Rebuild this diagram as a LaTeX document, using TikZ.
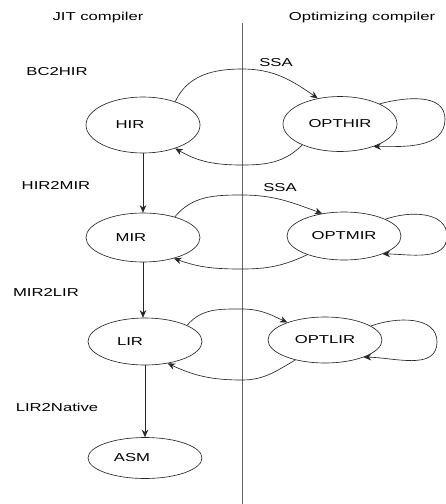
\documentclass[tikz,border=0pt]{standalone}
\usepackage{fontspec}
\usetikzlibrary{shapes.geometric,arrows.meta}
\newfontfamily\labfont[FakeStretch=1.45]{Liberation Sans}
\tikzset{
  lab/.style={font=\labfont\fontsize{11.5}{13}\selectfont, text=black, inner sep=0pt},
  st/.style={draw=black!85, line width=0.65pt, ellipse, inner sep=0pt, minimum width=114pt},
  conn/.style={draw=black!85, line width=0.65pt, -{Stealth[length=7.5pt,width=6.5pt]}},
  divider/.style={draw=black!60, line width=0.8pt}
}
\begin{document}
\begin{tikzpicture}[x=1pt,y=1pt]
\useasboundingbox (0,0) rectangle (446,-504);
% divider
\coordinate (vtop) at (242,-23);
\coordinate (vbot) at (242,-504);
\draw[divider] (vtop) -- (vbot);
% headings and labels
\node[lab] (jit) at (98,-18) {JIT compiler};
\node[lab] (opt) at (362,-18) {Optimizing compiler};
\node[lab] (bc2hir) at (57,-72) {BC2HIR};
\node[lab] (ssa1) at (276,-63) {SSA};
\node[lab] (hir2mir) at (56,-185) {HIR2MIR};
\node[lab] (ssa2) at (280,-188) {SSA};
\node[lab] (mir2lir) at (46,-292) {MIR2LIR};
\node[lab] (lir2nat) at (57,-407) {LIR2Native};
% states
\node[st, minimum height=56pt, label={[lab,xshift=-13pt]center:HIR}] (hir) at (143,-125) {};
\node[st, minimum height=55pt, label={[lab]center:OPTHIR}] (opthir) at (340,-124) {};
\node[st, minimum height=49pt, label={[lab,xshift=-12pt]center:MIR}] (mir) at (143,-237.5) {};
\node[st, minimum height=48pt, label={[lab]center:OPTMIR}] (optmir) at (344,-236) {};
\node[st, minimum height=47pt, label={[lab,xshift=-15pt]center:LIR}] (lir) at (145,-341.5) {};
\node[st, minimum height=46pt, label={[lab]center:OPTLIR}] (optlir) at (325,-340) {};
\node[st, minimum height=41pt, label={[lab,xshift=-13pt]center:ASM}] (asm) at (145,-458) {};
% helper coordinates
\coordinate (p1) at (242,-69);
\coordinate (b1) at (242,-165);
\coordinate (l1) at (445,-119);
\coordinate (p2) at (242,-195);
\coordinate (b2) at (242,-269);
\coordinate (l2) at (447,-236);
\coordinate (p3) at (242,-309);
\coordinate (b3) at (242,-380);
\coordinate (l3) at (437,-342);
% vertical arrows
\draw[conn] (hir.south) -- (mir.north);
\draw[conn] (mir.south) -- (mir.south |- lir.north);
\draw[conn] (lir.south) -- (asm.north);
% HIR level
\draw[conn] (hir.36) to[out=65,in=180] (p1) to[out=0,in=145] (opthir.131);
\draw[conn] (opthir.209) to[out=225,in=0] (b1) to[out=180,in=-30] (hir.-36);
\draw[conn] (opthir.27) to[out=15,in=90] (l1) to[out=-90,in=0] (opthir.-34);
% MIR level
\draw[conn] (mir.33) to[out=50,in=180] (p2) to[out=0,in=160] (optmir.134);
\draw[conn] (optmir.207) to[out=205,in=0] (b2) to[out=180,in=-20] (mir.-34);
\draw[conn] (optmir.22) to[out=20,in=90] (l2) to[out=-90,in=0] (optmir.-25);
% LIR level
\draw[conn] (lir.21) to[out=50,in=180] (p3) to[out=0,in=155] (optlir.155);
\draw[conn] (optlir.214) to[out=210,in=0] (b3) to[out=180,in=-25] (lir.-44);
\draw[conn] (optlir.17) to[out=20,in=90] (l3) to[out=-90,in=0] (optlir.-24);
\end{tikzpicture}
\end{document}
